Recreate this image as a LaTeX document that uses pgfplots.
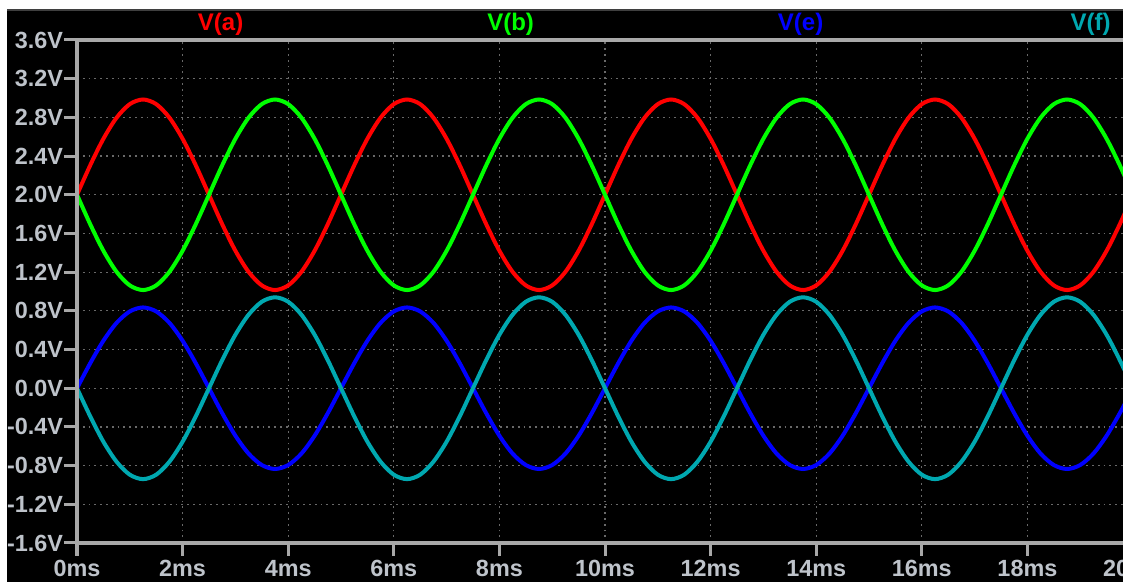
\documentclass[border=0pt]{standalone}
\usepackage{pgfplots}
\pgfplotsset{compat=1.18}
\usepackage{pgfplotstable}
\usepackage{fontspec}
\setmainfont{Liberation Sans}
\definecolor{axisgray}{RGB}{168,168,168}
\definecolor{gridgray}{RGB}{105,105,105}
\definecolor{labelgray}{RGB}{190,195,202}
\definecolor{vred}{RGB}{255,0,0}
\definecolor{vgreen}{RGB}{0,255,0}
\definecolor{vblue}{RGB}{0,0,255}
\definecolor{vcyan}{RGB}{0,168,176}

\pgfplotstableread{
t a b e f
0.00 2.000 2.000 0.000 0.000
0.25 2.304 1.696 0.258 -0.290
0.50 2.579 1.421 0.491 -0.553
0.75 2.797 1.203 0.676 -0.760
1.00 2.937 1.063 0.794 -0.894
1.25 2.985 1.015 0.835 -0.940
1.50 2.937 1.063 0.794 -0.894
1.75 2.797 1.203 0.676 -0.760
2.00 2.579 1.421 0.491 -0.553
2.25 2.304 1.696 0.258 -0.290
2.50 2.000 2.000 0.000 0.000
2.75 1.696 2.304 -0.258 0.290
3.00 1.421 2.579 -0.491 0.553
3.25 1.203 2.797 -0.676 0.760
3.50 1.063 2.937 -0.794 0.894
3.75 1.015 2.985 -0.835 0.940
4.00 1.063 2.937 -0.794 0.894
4.25 1.203 2.797 -0.676 0.760
4.50 1.421 2.579 -0.491 0.553
4.75 1.696 2.304 -0.258 0.290
5.00 2.000 2.000 0.000 0.000
5.25 2.304 1.696 0.258 -0.290
5.50 2.579 1.421 0.491 -0.553
5.75 2.797 1.203 0.676 -0.760
6.00 2.937 1.063 0.794 -0.894
6.25 2.985 1.015 0.835 -0.940
6.50 2.937 1.063 0.794 -0.894
6.75 2.797 1.203 0.676 -0.760
7.00 2.579 1.421 0.491 -0.553
7.25 2.304 1.696 0.258 -0.290
7.50 2.000 2.000 0.000 0.000
7.75 1.696 2.304 -0.258 0.290
8.00 1.421 2.579 -0.491 0.553
8.25 1.203 2.797 -0.676 0.760
8.50 1.063 2.937 -0.794 0.894
8.75 1.015 2.985 -0.835 0.940
9.00 1.063 2.937 -0.794 0.894
9.25 1.203 2.797 -0.676 0.760
9.50 1.421 2.579 -0.491 0.553
9.75 1.696 2.304 -0.258 0.290
10.00 2.000 2.000 0.000 0.000
10.25 2.304 1.696 0.258 -0.290
10.50 2.579 1.421 0.491 -0.553
10.75 2.797 1.203 0.676 -0.760
11.00 2.937 1.063 0.794 -0.894
11.25 2.985 1.015 0.835 -0.940
11.50 2.937 1.063 0.794 -0.894
11.75 2.797 1.203 0.676 -0.760
12.00 2.579 1.421 0.491 -0.553
12.25 2.304 1.696 0.258 -0.290
12.50 2.000 2.000 0.000 0.000
12.75 1.696 2.304 -0.258 0.290
13.00 1.421 2.579 -0.491 0.553
13.25 1.203 2.797 -0.676 0.760
13.50 1.063 2.937 -0.794 0.894
13.75 1.015 2.985 -0.835 0.940
14.00 1.063 2.937 -0.794 0.894
14.25 1.203 2.797 -0.676 0.760
14.50 1.421 2.579 -0.491 0.553
14.75 1.696 2.304 -0.258 0.290
15.00 2.000 2.000 0.000 0.000
15.25 2.304 1.696 0.258 -0.290
15.50 2.579 1.421 0.491 -0.553
15.75 2.797 1.203 0.676 -0.760
16.00 2.937 1.063 0.794 -0.894
16.25 2.985 1.015 0.835 -0.940
16.50 2.937 1.063 0.794 -0.894
16.75 2.797 1.203 0.676 -0.760
17.00 2.579 1.421 0.491 -0.553
17.25 2.304 1.696 0.258 -0.290
17.50 2.000 2.000 0.000 0.000
17.75 1.696 2.304 -0.258 0.290
18.00 1.421 2.579 -0.491 0.553
18.25 1.203 2.797 -0.676 0.760
18.50 1.063 2.937 -0.794 0.894
18.75 1.015 2.985 -0.835 0.940
19.00 1.063 2.937 -0.794 0.894
19.25 1.203 2.797 -0.676 0.760
19.50 1.421 2.579 -0.491 0.553
19.75 1.696 2.304 -0.258 0.290
20.00 2.000 2.000 0.000 0.000
}\wavedata

\begin{document}
\begin{tikzpicture}
\useasboundingbox (0,0) rectangle (561.5pt,291pt);
\fill[white] (0,0) rectangle (561.5pt,291pt);
\fill[black] (3.5pt,0) rectangle (561.5pt,286pt);
\draw[gridgray!60!black, line width=0.6pt] (3.5pt,286pt) -- (561.5pt,286pt);
\begin{axis}[
  name=ax,
  at={(38.5pt,19.5pt)}, anchor=south west,
  scale only axis, width=528pt, height=251.5pt,
  xmin=0, xmax=20, ymin=-1.6, ymax=3.6,
  axis line style={draw=none},
  xtick={0,2,4,6,8,10,12,14,16,18,20},
  xticklabels={0ms,2ms,4ms,6ms,8ms,10ms,12ms,14ms,16ms,18ms,20ms},
  ytick={-1.6,-1.2,-0.8,-0.4,0,0.4,0.8,1.2,1.6,2.0,2.4,2.8,3.2,3.6},
  yticklabels={-1.6V,-1.2V,-0.8V,-0.4V,0.0V,0.4V,0.8V,1.2V,1.6V,2.0V,2.4V,2.8V,3.2V,3.6V},
  tick align=outside,
  xtick pos=left, ytick pos=left,
  major tick length=6.5pt,
  major tick style={draw=axisgray, line width=1.5pt},
  grid=major,
  major grid style={draw=gridgray, line width=0.6pt, dash pattern=on 0.9pt off 2pt},
  ticklabel style={font=\fontsize{11.7}{12}\selectfont\bfseries, text=labelgray},
  yticklabel style={anchor=east, inner sep=0.3pt},
  xticklabel style={anchor=north, inner sep=1pt, yshift=-1pt},
  clip mode=individual,
]
\addplot[vred, line width=2pt, smooth] table[x=t, y=a] {\wavedata};
\addplot[vgreen, line width=2pt, smooth] table[x=t, y=b] {\wavedata};
\addplot[vblue, line width=2pt, smooth] table[x=t, y=e] {\wavedata};
\addplot[vcyan, line width=2pt, smooth] table[x=t, y=f] {\wavedata};
\end{axis}
\draw[axisgray, line width=2pt] (ax.south west) -- (ax.south east);
\draw[axisgray, line width=2pt] (ax.south west) -- (ax.north west) -- (ax.north east);
\begin{scope}[font=\fontsize{12}{13}\selectfont\bfseries]
\node[anchor=base, text=vred] at (110.3pt,275.5pt) {V(a)};
\node[anchor=base, text=vgreen] at (255.3pt,275.5pt) {V(b)};
\node[anchor=base, text=vblue] at (400.3pt,275.5pt) {V(e)};
\node[anchor=base, text=vcyan] at (545.3pt,275.5pt) {V(f)};
\end{scope}
\end{tikzpicture}
\end{document}
